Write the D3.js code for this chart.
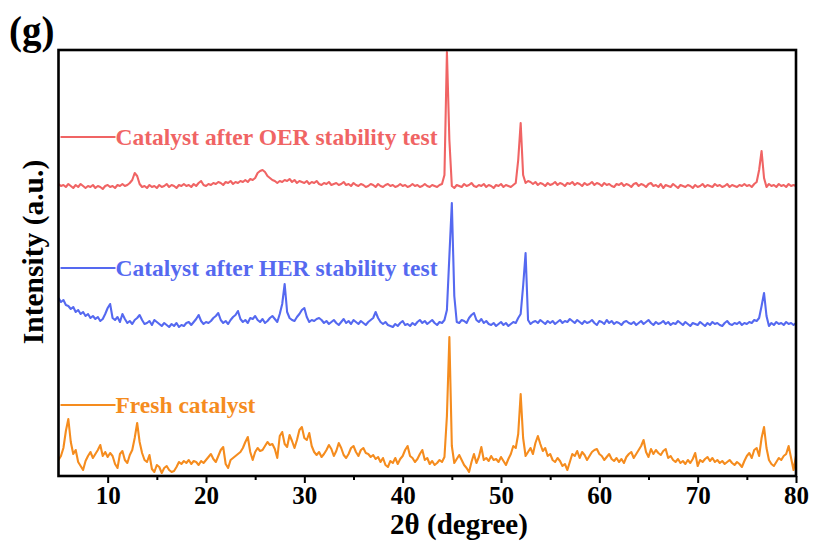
<!DOCTYPE html>
<html>
<head>
<meta charset="utf-8">
<script src="https://cdn.jsdelivr.net/npm/d3@7"></script>
<style>
  html, body { margin: 0; padding: 0; background: #ffffff; }
  svg { display: block; }
  text { font-family: "Liberation Serif", "Times New Roman", serif; font-weight: bold; }
</style>
</head>
<body>
<svg id="chart" width="813" height="542"></svg>
<script>
// XRD patterns, 2θ from 5° to 80° in 0.25° steps (intensity in a.u.)
const scanStart = 5, scanStep = 0.25;

const freshCatalyst = [
  16,20,28,45, 57,34,22,26, 14,10,6,15, 20,24,18,22, 26,31,20,24,
  19,23,20,12, 8,22,25,16, 13,21,26,38, 53,34,23,16, 14,21,7,4,
  11,9,3,8, 10,6,4,5, 9,14,12,15, 13,16,12,15, 14,11,15,13,
  16,19,22,17, 14,20,26,29, 12,8,16,18, 20,22,24,28, 34,39,24,16,
  24,28,25,26, 30,34,31,32, 27,18,40,44, 32,29,41,35, 28,36,46,49,
  38,36,43,30, 24,21,24,19, 22,26,31,27, 20,25,33,28, 21,18,22,28,
  30,24,20,26, 28,23,22,19, 21,17,19,14, 18,11,9,15, 13,18,12,17,
  20,26,30,20, 18,14,17,22, 26,16,18,12, 15,11,13,16, 14,19,60,139,
  30,13,17,21, 16,11,8,4, 14,22,13,19, 29,16,18,15, 20,16,17,14,
  19,15,11,17, 22,30,28,42, 82,38,20,24, 28,22,33,40, 32,25,28,20,
  22,16,14,18, 15,10,12,6, 14,22,20,25, 18,24,21,16, 20,24,26,27,
  22,20,16,19, 22,17,15,18, 14,17,13,19, 22,24,18,22, 26,30,36,24,
  19,27,22,26, 23,21,25,27, 18,20,16,14, 17,13,15,12, 16,13,17,23,
  10,16,14,17, 19,15,18,14, 16,13,15,12, 14,16,13,11, 14,12,9,15,
  20,23,18,26, 28,20,38,49, 28,16,12,10, 14,18,16,20, 22,30,18,6,
  20
];

const afterHER = [
  38,34,36,31, 30,27,29,24, 26,22,24,20, 22,18,20,17, 19,15,17,22,
  28,32,18,16, 19,14,22,17, 13,15,12,16, 18,21,16,12, 13,15,11,16,
  14,12,10,13, 11,9,12,10, 13,9,11,10, 13,14,11,14, 17,21,15,12,
  14,13,15,18, 20,23,16,13, 15,12,16,19, 21,25,17,14, 16,13,18,17,
  20,16,14,17, 13,15,18,20, 17,14,22,32, 52,24,18,16, 15,19,22,26,
  28,19,14,16, 15,17,18,16, 13,15,12,14, 16,13,11,14, 17,13,15,12,
  16,14,12,15, 13,11,14,16, 18,24,18,14, 12,14,11,10, 9,12,10,13,
  15,11,12,10, 13,11,14,16, 13,15,12,14, 16,13,11,14, 13,16,26,80,
  133,40,14,13, 16,15,13,18, 21,23,16,14, 17,13,15,12, 11,13,10,12,
  14,11,13,10, 12,14,13,18, 22,50,83,16, 12,14,15,13, 16,14,12,15,
  13,15,12,14, 16,13,15,14, 17,15,13,16, 14,12,15,13, 14,16,13,11,
  15,14,12,16, 13,15,12,14, 13,11,14,15, 13,12,14,11, 13,15,12,14,
  16,13,11,14, 12,13,15,12, 14,11,13,12, 15,13,11,14, 12,10,13,12,
  11,14,12,10, 13,11,14,12, 13,11,10,13, 15,12,11,13, 12,14,11,13,
  12,14,13,16, 15,18,30,43, 20,10,13,11, 14,12,13,11, 14,12,13,11,
  13
];

const afterOER = [
  16,14,15,13, 16,14,12,15, 13,16,14,12, 14,13,15,12, 14,13,11,14,
  15,13,14,12, 15,14,16,14, 15,17,20,27, 24,16,13,14, 12,15,13,14,
  12,15,13,14, 16,13,15,14, 12,15,14,16, 14,15,13,16, 14,17,19,15,
  14,16,15,17, 16,18,17,15, 18,17,19,16, 18,17,19,18, 20,18,21,20,
  22,27,29,30, 28,24,22,20, 19,17,19,18, 20,19,21,18, 20,17,19,18,
  17,19,16,18, 17,19,16,15, 17,16,18,15, 16,17,15,16, 18,15,16,14,
  17,15,14,16, 15,13,14,16, 15,13,16,14, 13,15,16,14, 15,13,14,16,
  14,15,13,14, 16,14,15,13, 14,16,14,13, 15,14,13,15, 16,25,148,60,
  14,12,15,14, 13,16,14,15, 17,14,13,15, 14,16,13,15, 14,12,15,14,
  16,13,15,14, 13,15,17,40, 77,25,17,19, 18,16,18,15, 17,16,14,17,
  15,16,18,15, 17,16,14,17, 16,18,15,17, 16,14,17,15, 16,18,15,17,
  16,14,17,15, 16,14,13,16, 15,17,14,16, 15,13,16,17, 14,16,15,13,
  16,17,14,15, 13,16,12,15, 14,13,16,14, 12,15,14,13, 15,14,12,15,
  13,14,16,13, 15,14,13,16, 14,15,13,14, 16,13,15,14, 13,15,14,16,
  14,15,13,16, 18,30,49,22, 13,16,14,15, 13,16,14,15, 13,16,14,15,
  14
];

const seriesNames = ["Fresh catalyst", "Catalyst after HER stability test", "Catalyst after OER stability test"];
const seriesColors = ["#F58C1E", "#5569F0", "#F06464"];
const stackOffsets = [0, 140, 276];   // vertical shift of each pattern
const legendLevels = [71, 208, 339];  // legend height, same units as intensity
const majorTicks = [10, 20, 30, 40, 50, 60, 70, 80];
const minorTicks = [15, 25, 35, 45, 55, 65, 75];

const svg = d3.select("#chart");
const plotLeft = 58.5, plotRight = 796, plotTop = 50, plotBottom = 476;

const x = d3.scaleLinear().domain([5, 80]).range([plotLeft, plotRight]);
const y = d3.scaleLinear().domain([0, 426]).range([plotBottom, plotTop]);

svg.append("defs").append("clipPath").attr("id", "plotClip")
  .append("rect").attr("x", plotLeft).attr("y", plotTop)
  .attr("width", plotRight - plotLeft).attr("height", plotBottom - plotTop);

const patterns = [freshCatalyst, afterHER, afterOER];
const line = d3.line()
  .x(d => x(d[0]))
  .y(d => y(d[1]));

const plot = svg.append("g").attr("clip-path", "url(#plotClip)");
patterns.forEach((vals, i) => {
  const pts = vals.map((v, k) => [scanStart + k * scanStep, v + stackOffsets[i]]);
  plot.append("path")
    .datum(pts)
    .attr("fill", "none")
    .attr("stroke", seriesColors[i])
    .attr("stroke-width", 2.1)
    .attr("stroke-linejoin", "round")
    .attr("d", line);
});

// legend entries: short line plus label, placed above each pattern
seriesNames.forEach((name, i) => {
  const ly = y(legendLevels[i]);
  svg.append("line")
    .attr("x1", plotLeft + 2).attr("x2", plotLeft + 57)
    .attr("y1", ly).attr("y2", ly)
    .attr("stroke", seriesColors[i]).attr("stroke-width", 2);
  svg.append("text")
    .attr("x", plotLeft + 57).attr("y", ly + 8)
    .attr("fill", seriesColors[i])
    .style("font-size", "23.5px")
    .text(name);
});

// bottom axis: major ticks with labels, minor ticks without
const axisMajor = d3.axisBottom(x).tickValues(majorTicks).tickSize(7).tickSizeOuter(0).tickPadding(3);
const axisMinor = d3.axisBottom(x).tickValues(minorTicks).tickSize(4).tickSizeOuter(0).tickFormat("");

const gMinor = svg.append("g").attr("transform", `translate(0,${plotBottom})`).call(axisMinor);
gMinor.select(".domain").remove();
gMinor.selectAll("line").attr("stroke", "#000").attr("stroke-width", 2);

const gMajor = svg.append("g").attr("transform", `translate(0,${plotBottom})`).call(axisMajor);
gMajor.select(".domain").remove();
gMajor.selectAll("line").attr("stroke", "#000").attr("stroke-width", 2);
gMajor.selectAll("text")
  .attr("fill", "#000")
  .style("font-size", "25px")
  .style("font-family", "'Liberation Serif', 'Times New Roman', serif")
  .style("font-weight", "bold");

// frame
svg.append("rect")
  .attr("x", plotLeft).attr("y", plotTop)
  .attr("width", plotRight - plotLeft).attr("height", plotBottom - plotTop)
  .attr("fill", "none").attr("stroke", "#000").attr("stroke-width", 2.6);

// axis titles
svg.append("text")
  .attr("x", 459).attr("y", 534)
  .attr("text-anchor", "middle")
  .style("font-size", "29px")
  .text("2θ (degree)");

svg.append("text")
  .attr("transform", `translate(43,252) rotate(-90)`)
  .attr("text-anchor", "middle")
  .style("font-size", "29.5px")
  .text("Intensity (a.u.)");

// panel label
svg.append("text")
  .attr("x", 9).attr("y", 44)
  .style("font-size", "39px")
  .text("(g)");
</script>
</body>
</html>
